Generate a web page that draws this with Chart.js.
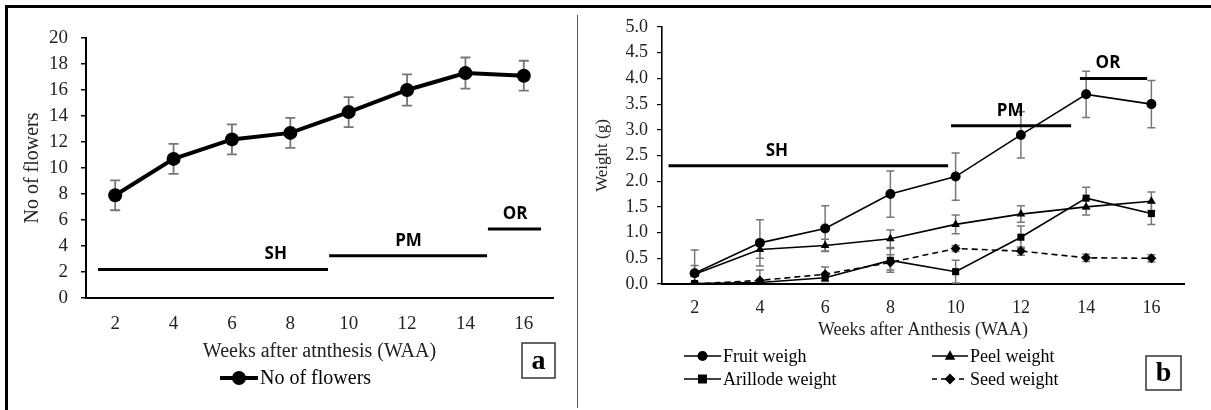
<!DOCTYPE html>
<html>
<head>
<meta charset="utf-8">
<script src="https://cdn.jsdelivr.net/npm/chart.js@4.4.1/dist/chart.umd.min.js"></script>
<style>
  html, body { margin: 0; padding: 0; background: #fff; }
  #wrap { position: relative; width: 1211px; height: 410px; overflow: hidden; background: #fff; }
  #chartA { position: absolute; left: 0; top: 0; }
  #chartB { position: absolute; left: 578px; top: 0; }
  .frameTop { position: absolute; left: 5px; top: 5px; width: 1206px; height: 3px; background: #000; }
  .frameLeft { position: absolute; left: 5px; top: 5px; width: 3px; height: 405px; background: #000; }
  .divider { position: absolute; left: 577px; top: 15px; width: 1px; height: 393px; background: #555; }
</style>
</head>
<body>
<div id="wrap">
  <canvas id="chartA" width="577" height="410"></canvas>
  <canvas id="chartB" width="633" height="410"></canvas>
  <div class="frameTop"></div>
  <div class="frameLeft"></div>
  <div class="divider"></div>
</div>
<script>
'use strict';

// weeks after anthesis
const weeks = [2, 4, 6, 8, 10, 12, 14, 16];

// panel a
const flowers = [7.9, 10.7, 12.2, 12.7, 14.3, 16.0, 17.3, 17.1];
const flowersErr = [1.15, 1.15, 1.15, 1.15, 1.15, 1.2, 1.2, 1.15];

// panel b
const fruitWeight = [0.21, 0.80, 1.08, 1.75, 2.09, 2.90, 3.69, 3.50];
const fruitErr = [0.45, 0.45, 0.44, 0.45, 0.46, 0.45, 0.45, 0.46];
const peelWeight = [0.19, 0.67, 0.75, 0.88, 1.16, 1.36, 1.50, 1.61];
const peelErr = [0.17, 0.17, 0.12, 0.17, 0.18, 0.16, 0.16, 0.18];
const arillodeWeight = [0.01, 0.03, 0.12, 0.46, 0.24, 0.91, 1.67, 1.37];
const arillodeErr = [0.02, 0.05, 0.05, 0.23, 0.22, 0.22, 0.21, 0.21];
const seedWeight = [0.00, 0.07, 0.19, 0.42, 0.69, 0.64, 0.51, 0.50];
const seedErr = [0.02, 0.20, 0.14, 0.15, 0.06, 0.08, 0.07, 0.07];

// development phases (week span, level on y scale, label spot)
const phaseNames = ['SH', 'PM', 'OR'];
const phaseStartA = [1.41, 9.33, 14.77];
const phaseEndA = [9.29, 14.74, 16.59];
const phaseLevelA = [2.2, 3.25, 5.3];
const phaseLabelA = [7.5, 12.05, 15.7];
const phaseStartB = [1.2, 9.86, 13.81];
const phaseEndB = [9.77, 13.54, 15.87];
const phaseLevelB = [2.3, 3.08, 4.0];
const phaseLabelB = [4.52, 11.67, 14.67];

const serif = '"Liberation Serif", "Times New Roman", serif';
const toXY = vals => vals.map((v, i) => ({ x: weeks[i], y: v }));

function marker(ctx, style, x, y, r) {
  ctx.beginPath();
  if (style === 'circle') {
    ctx.arc(x, y, r, 0, Math.PI * 2);
  } else if (style === 'triangle') {
    ctx.moveTo(x, y - r * 1.15);
    ctx.lineTo(x + r * 1.05, y + r * 0.75);
    ctx.lineTo(x - r * 1.05, y + r * 0.75);
    ctx.closePath();
  } else if (style === 'rect') {
    ctx.rect(x - r, y - r, r * 2, r * 2);
  } else if (style === 'rectRot') {
    ctx.moveTo(x, y - r * 1.2);
    ctx.lineTo(x + r * 1.2, y);
    ctx.lineTo(x, y + r * 1.2);
    ctx.lineTo(x - r * 1.2, y);
    ctx.closePath();
  }
  ctx.fill();
}

const errorBars = {
  id: 'errorBars',
  beforeDatasetsDraw(chart, args, opts) {
    const { ctx, chartArea, scales: { x, y } } = chart;
    ctx.save();
    ctx.beginPath();
    ctx.rect(chartArea.left, chartArea.top - 2, chartArea.width, chartArea.height + 2);
    ctx.clip();
    ctx.strokeStyle = opts.color;
    ctx.lineWidth = opts.width;
    chart.data.datasets.forEach(ds => {
      ds.errors.forEach((e, i) => {
        const px = x.getPixelForValue(ds.data[i].x);
        const v = ds.data[i].y;
        const top = y.getPixelForValue(v + e);
        const bot = y.getPixelForValue(v - e);
        ctx.beginPath();
        ctx.moveTo(px, top); ctx.lineTo(px, bot);
        ctx.moveTo(px - opts.cap, top); ctx.lineTo(px + opts.cap, top);
        ctx.moveTo(px - opts.cap, bot); ctx.lineTo(px + opts.cap, bot);
        ctx.stroke();
      });
    });
    ctx.restore();
  }
};

function phasePlugin(start, end, level, label) {
  return {
    id: 'phases',
    afterDatasetsDraw(chart) {
      const { ctx, scales: { x, y } } = chart;
      ctx.save();
      ctx.strokeStyle = '#000';
      ctx.lineWidth = 3;
      ctx.fillStyle = '#000';
      ctx.font = 'bold 17px "Open Sans", "Liberation Sans", sans-serif';
      ctx.textAlign = 'center';
      ctx.textBaseline = 'middle';
      phaseNames.forEach((name, i) => {
        const py = y.getPixelForValue(level[i]);
        ctx.beginPath();
        ctx.moveTo(x.getPixelForValue(start[i]), py);
        ctx.lineTo(x.getPixelForValue(end[i]), py);
        ctx.stroke();
        ctx.fillText(name, x.getPixelForValue(label[i]), py - 15);
      });
      ctx.restore();
    }
  };
}

// legend + panel letter
function legendPlugin(items, letter) {
  return {
    id: 'sideLegend',
    afterDraw(chart) {
      const { ctx } = chart;
      ctx.save();
      items.forEach(it => {
        ctx.strokeStyle = '#000';
        ctx.fillStyle = '#000';
        ctx.lineWidth = it.lw;
        ctx.setLineDash(it.dash || []);
        ctx.beginPath();
        ctx.moveTo(it.x, it.y);
        ctx.lineTo(it.x + it.len, it.y);
        ctx.stroke();
        ctx.setLineDash([]);
        marker(ctx, it.style, it.x + it.len / 2, it.y, it.r);
        ctx.font = it.font;
        ctx.textAlign = 'left';
        ctx.textBaseline = 'middle';
        ctx.fillText(it.text, it.x + it.len + 2, it.y + 1);
      });
      ctx.lineWidth = 1.5;
      ctx.strokeStyle = '#333';
      ctx.strokeRect(letter.x, letter.y, letter.w, letter.h);
      ctx.font = 'bold 28px ' + serif;
      ctx.textAlign = 'center';
      ctx.textBaseline = 'middle';
      ctx.fillStyle = '#000';
      ctx.fillText(letter.text, letter.x + letter.w / 2, letter.y + letter.h / 2 + 1);
      ctx.restore();
    }
  };
}

function xAxis(tickSize, titleSize, height, pad, title) {
  return {
    type: 'linear', min: 1, max: 17,
    afterBuildTicks: axis => { axis.ticks = weeks.map(v => ({ value: v })); },
    afterFit: axis => { axis.height = height; },
    grid: { display: false },
    border: { display: true, color: '#000', width: 2 },
    ticks: { color: '#222', font: { family: serif, size: tickSize }, padding: pad, maxRotation: 0 },
    title: { display: true, text: title, color: '#222', font: { family: serif, size: titleSize }, padding: 0 }
  };
}

// ---- panel a ----
new Chart(document.getElementById('chartA').getContext('2d'), {
  type: 'line',
  data: {
    datasets: [{
      label: 'No of flowers',
      data: toXY(flowers),
      errors: flowersErr,
      borderColor: '#000',
      backgroundColor: '#000',
      borderWidth: 4,
      pointRadius: 7,
      pointBackgroundColor: '#000',
      pointBorderWidth: 0,
      tension: 0
    }]
  },
  options: {
    responsive: false,
    animation: false,
    layout: { padding: { left: 0, right: 24, top: 38, bottom: 46 } },
    plugins: {
      legend: { display: false },
      tooltip: { enabled: false },
      errorBars: { color: '#777', width: 1.8, cap: 5 }
    },
    scales: {
      x: xAxis(19, 20, 66, 7, 'Weeks after atnthesis (WAA)'),
      y: {
        min: 0, max: 20,
        afterFit: axis => { axis.width = 86; },
        grid: { display: true, drawOnChartArea: false, drawTicks: true, tickLength: 5, color: '#000', lineWidth: 1.5 },
        border: { display: true, color: '#000', width: 2 },
        ticks: { stepSize: 2, color: '#222', font: { family: serif, size: 19 }, padding: 13 },
        title: { display: true, text: 'No of flowers', color: '#222', font: { family: serif, size: 20 }, padding: { top: 21 } }
      }
    }
  },
  plugins: [
    errorBars,
    phasePlugin(phaseStartA, phaseEndA, phaseLevelA, phaseLabelA),
    legendPlugin([
      { text: 'No of flowers', style: 'circle', x: 220, y: 378, len: 38, lw: 4, r: 7, font: '20px ' + serif }
    ], { text: 'a', x: 522, y: 343, w: 33, h: 35 })
  ]
});

// ---- panel b ----
const lineStyle = (label, vals, errs, style, dash) => ({
  label: label,
  data: toXY(vals),
  errors: errs,
  borderColor: '#000',
  backgroundColor: '#000',
  borderWidth: 1.6,
  borderDash: dash,
  pointStyle: style,
  pointRadius: 5,
  pointBackgroundColor: '#000',
  pointBorderWidth: 0,
  tension: 0
});

new Chart(document.getElementById('chartB').getContext('2d'), {
  type: 'line',
  data: {
    datasets: [
      lineStyle('Fruit weigh', fruitWeight, fruitErr, 'circle', []),
      lineStyle('Peel weight', peelWeight, peelErr, 'triangle', []),
      lineStyle('Arillode weight', arillodeWeight, arillodeErr, 'rect', []),
      lineStyle('Seed weight', seedWeight, seedErr, 'rectRot', [6, 4])
    ]
  },
  options: {
    responsive: false,
    animation: false,
    layout: { padding: { left: 0, right: 27, top: 27, bottom: 69 } },
    plugins: {
      legend: { display: false },
      tooltip: { enabled: false },
      errorBars: { color: '#777', width: 1.5, cap: 4 }
    },
    scales: {
      x: xAxis(18, 18, 57, 5, 'Weeks after Anthesis (WAA)'),
      y: {
        min: 0, max: 5,
        afterFit: axis => { axis.width = 84; },
        grid: { display: true, drawOnChartArea: false, drawTicks: true, tickLength: 5, color: '#000', lineWidth: 1.2 },
        border: { display: true, color: '#000', width: 1.6 },
        ticks: { stepSize: 0.5, color: '#222', font: { family: serif, size: 18 }, padding: 9,
                 callback: v => Number(v).toFixed(1) },
        title: { display: true, text: 'Weight (g)', color: '#222', font: { family: serif, size: 17 }, padding: { top: 14 } }
      }
    }
  },
  plugins: [
    errorBars,
    phasePlugin(phaseStartB, phaseEndB, phaseLevelB, phaseLabelB),
    legendPlugin([
      { text: 'Fruit weigh', style: 'circle', x: 106, y: 356, len: 37, lw: 1.6, r: 5, font: '18px ' + serif },
      { text: 'Peel weight', style: 'triangle', x: 354, y: 356, len: 36, lw: 1.6, r: 5, font: '18px ' + serif },
      { text: 'Arillode weight', style: 'rect', x: 106, y: 379, len: 37, lw: 1.6, r: 4.5, font: '18px ' + serif },
      { text: 'Seed weight', style: 'rectRot', x: 354, y: 379, len: 36, lw: 1.6, r: 4.5, font: '18px ' + serif, dash: [5, 4] }
    ], { text: 'b', x: 568, y: 356, w: 35, h: 34 })
  ]
});
</script>
</body>
</html>
